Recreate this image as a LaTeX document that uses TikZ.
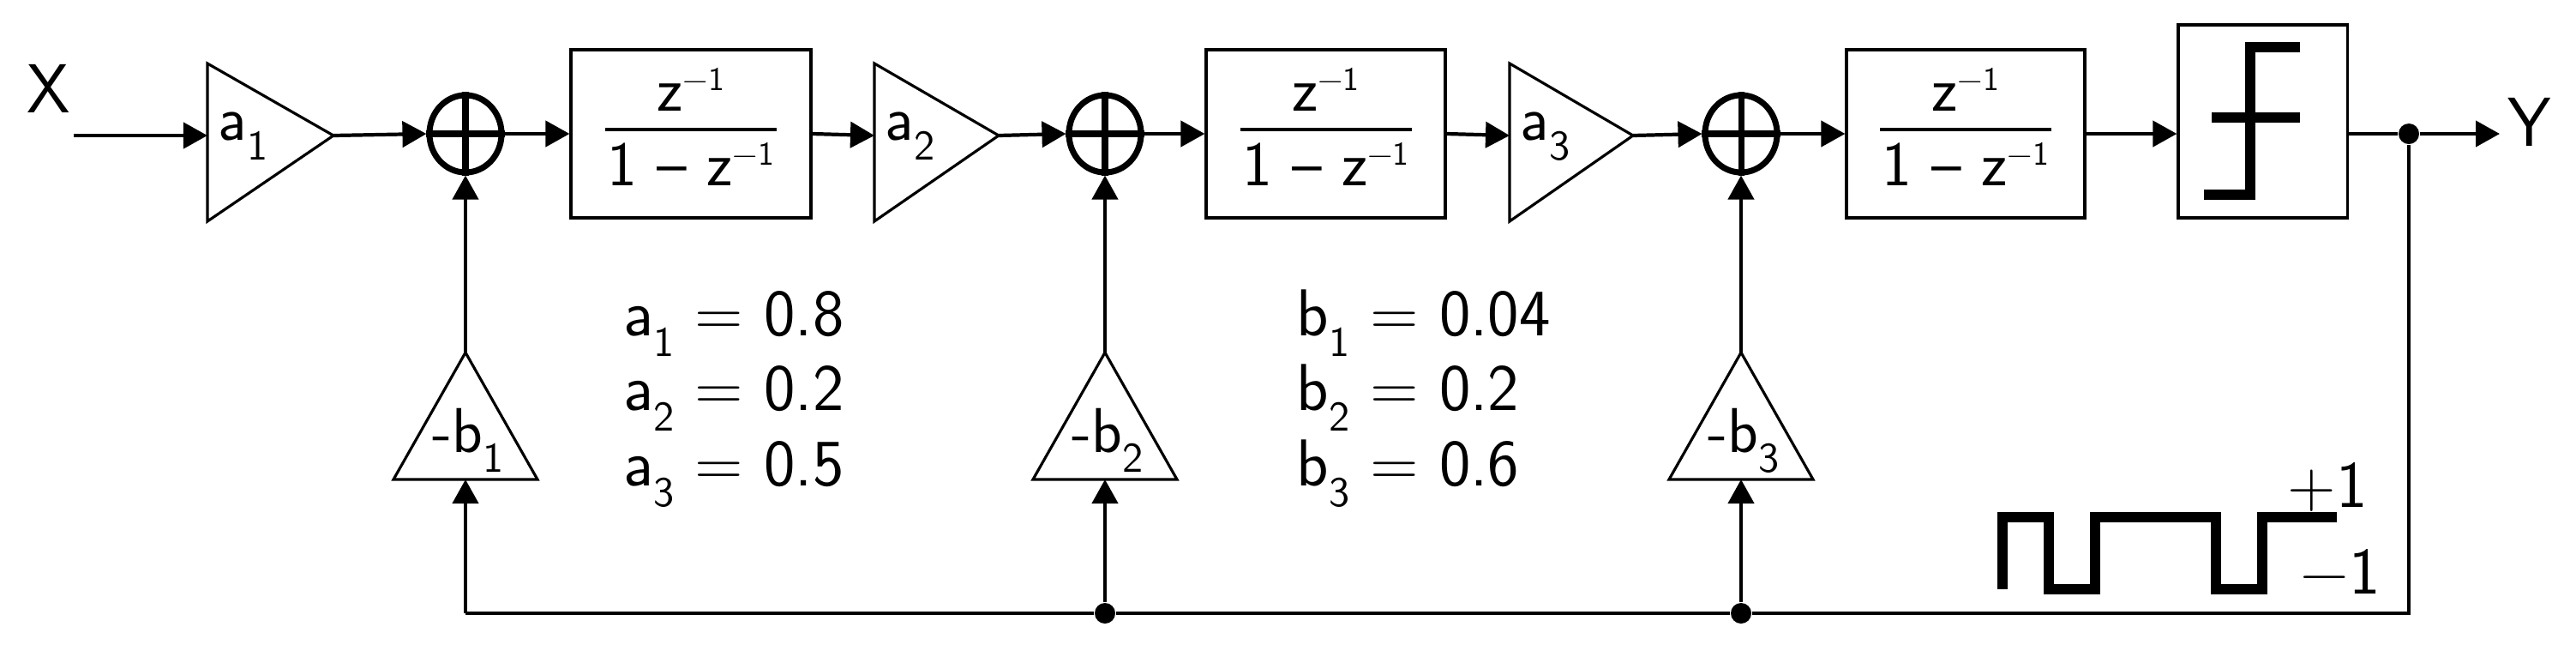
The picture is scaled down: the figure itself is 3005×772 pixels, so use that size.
\documentclass[tikz,border=0pt]{standalone}
\usetikzlibrary{shapes.geometric,arrows.meta}
\newcommand\lo[1]{\raisebox{-0.32em}{\fontsize{14}{16}\selectfont #1}}
\newcommand\hi[1]{\raisebox{0.32em}{\fontsize{11}{13}\selectfont #1}}
\begin{document}
\begin{tikzpicture}[x=0.01cm,y=-0.01cm,
  ln/.style={line width=1.2pt},
  arr/.style={ln,-{Triangle[length=0.28cm,width=0.3cm]}},
  amp/.style={line width=0.9pt,line join=miter},
  blk/.style={draw,line width=0.9pt,rectangle,inner sep=0pt},
  sumn/.style={draw,ellipse,line width=2pt,minimum width=0.84cm,minimum height=0.9cm,inner sep=0pt},
  lbl/.style={font=\sffamily\fontsize{21}{24}\selectfont,inner sep=0pt},
  frc/.style={font=\sffamily\fontsize{21}{24}\selectfont,inner sep=0pt,anchor=base},
  eq/.style={font=\sffamily\fontsize{22}{26}\selectfont,inner sep=0pt,anchor=base west},
  big/.style={font=\sffamily\fontsize{23}{26}\selectfont,inner sep=0pt},
  dot/.style={circle,fill,inner sep=0pt,minimum size=0.24cm}]
\useasboundingbox (0,0) rectangle (3005,772);
% input
\node[big] (X) at (57,103) {X};
\coordinate (xin) at (86,158);
% amplifiers (forward)
\foreach \n/\l/\r/\s in {1/242/389/1, 2/1020/1165/2, 3/1761/1905/3}{
  \draw[amp] (\l,74) -- (\r,158) -- (\l,258) -- cycle;
  \coordinate (a\n in) at (\l,158);
  \coordinate (a\n out) at (\r,158);
  \node[lbl,anchor=base west] (a\n lab) at (\l+12,163) {a\lo{\s}};
}
% sums
\foreach \n/\x in {1/543,2/1289,3/2031}{
  \node[sumn] (s\n) at (\x,156) {};
  \draw[line width=2pt] (s\n.north) -- (s\n.south) (s\n.west) -- (s\n.east);
}
% integrator boxes
\foreach \n/\l/\r in {1/666/946,2/1407/1686,3/2154/2432}{
  \node[blk,minimum width={(\r-\l)*0.01cm},minimum height=1.96cm] (h\n) at ({(\l+\r)/2},156) {};
  \node[frc] (hn\n) at ({(\l+\r)/2},129) {z\hi{−1}};
  \node[frc] (hd\n) at ({(\l+\r)/2},216) {1 – z\hi{−1}};
  \draw[line width=1.3pt] ({(\l+\r)/2-100},151) -- ({(\l+\r)/2+100},151);
}
% comparator
\node[blk,minimum width=1.97cm,minimum height=2.25cm] (q) at (2639.5,141.5) {};
\draw[line width=3.2pt] (2571,227) -- (2625,227) -- (2625,55) -- (2683,55);
\draw[line width=3.2pt] (2580,137) -- (2683,137);
% feedback amplifiers
\foreach \n/\x in {1/543,2/1289,3/2031}{
  \draw[amp] (\x,411) -- (\x+84,559) -- (\x-84,559) -- cycle;
  \coordinate (b\n top) at (\x,411);
  \coordinate (b\n bot) at (\x,559);
  \node[lbl,anchor=base] (b\n lab) at (\x+3,527) {-b\lo{\n}};
}
% forward connections
\draw[arr] (xin) -- (a1in);
\draw[arr] (a1out) -- (s1.west);
\draw[arr] (s1.east) -- (h1.west);
\draw[arr] (h1.east) -- (a2in);
\draw[arr] (a2out) -- (s2.west);
\draw[arr] (s2.east) -- (h2.west);
\draw[arr] (h2.east) -- (a3in);
\draw[arr] (a3out) -- (s3.west);
\draw[arr] (s3.east) -- (h3.west);
\draw[arr] (h3.east) -- (q.west|-h3.east);
% output
\node[dot] (d0) at (2810,156) {};
\coordinate (yout) at (2916,156);
\node[big] (Y) at (2951,142) {Y};
\draw[line width=0.9pt] (q.east|-d0) -- (d0);
\draw[arr] (d0) -- (yout);
% feedback bus
\node[dot] (d2) at (1289,715) {};
\node[dot] (d3) at (2031,715) {};
\coordinate (c1) at (543,715);
\coordinate (c0) at (2810,715);
\draw[ln] (d0) -- (c0) -- (d3) -- (d2) -- (c1);
\draw[arr] (c1) -- (b1bot);
\draw[arr] (d2) -- (b2bot);
\draw[arr] (d3) -- (b3bot);
\draw[arr] (b1top) -- (s1.south);
\draw[arr] (b2top) -- (s2.south);
\draw[arr] (b3top) -- (s3.south);
% coefficient text
\node[eq] (ea1) at (727,391) {a\lo{1} = 0.8};
\node[eq] (ea2) at (727,478) {a\lo{2} = 0.2};
\node[eq] (ea3) at (727,566) {a\lo{3} = 0.5};
\node[eq] (eb1) at (1512,391) {b\lo{1} = 0.04};
\node[eq] (eb2) at (1512,478) {b\lo{2} = 0.2};
\node[eq] (eb3) at (1512,566) {b\lo{3} = 0.6};
% square wave
\draw[line width=3.2pt] (2336,687) -- (2336,603) -- (2390,603) -- (2390,687) -- (2444,687) -- (2444,603) -- (2585,603) -- (2585,687) -- (2639,687) -- (2639,603) -- (2726,603);
\node[eq] (p1) at (2668,591) {+1};
\node[eq] (m1) at (2683,692) {−1};
\end{tikzpicture}
\end{document}
